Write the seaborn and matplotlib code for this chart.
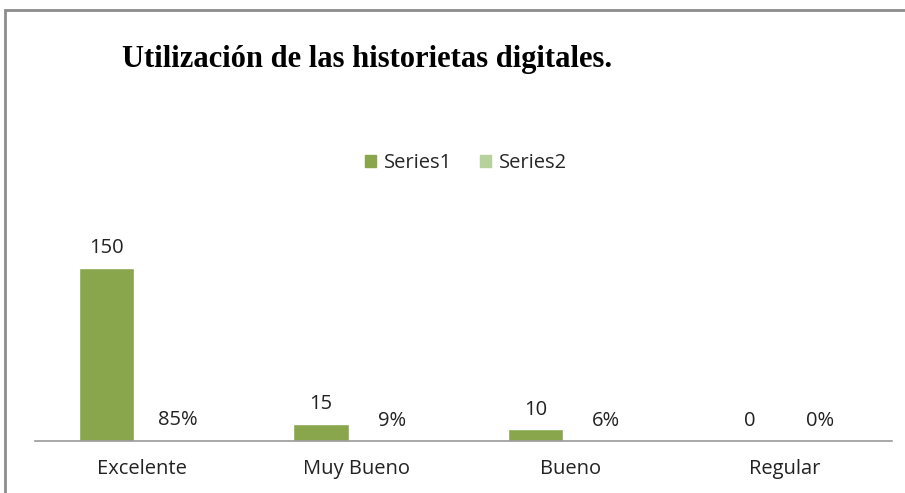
import pandas as pd
import matplotlib.pyplot as plt
import seaborn as sns
from matplotlib.patches import Rectangle

categories = ["Excelente", "Muy Bueno", "Bueno", "Regular"]
series1 = [150, 15, 10, 0]
series2 = [0.85, 0.09, 0.06, 0.0]
series2_labels = ["85%", "9%", "6%", "0%"]

df = pd.DataFrame({
    "categoria": categories * 2,
    "valor": series1 + series2,
    "serie": ["Series1"] * 4 + ["Series2"] * 4,
})

sns.set_theme(style="white")
plt.rcParams["font.family"] = ["Open Sans", "DejaVu Sans"]

fig = plt.figure(figsize=(9.05, 4.93), dpi=100)
ax = fig.add_axes([35 / 905, 52 / 493, 857 / 905, 231 / 493])

sns.barplot(data=df, x="categoria", y="valor", hue="serie",
            palette=["#8AA64C", "#B7D19A"], width=0.66, gap=0.22,
            saturation=1, ax=ax, legend=False)

ax.bar_label(ax.containers[0], labels=[str(v) for v in series1],
             padding=7, fontsize=14.5, color="#222222")
ax.bar_label(ax.containers[1], labels=series2_labels,
             padding=7, fontsize=14.5, color="#222222")

ax.set_ylim(0, 200)
ax.set_xlim(-0.5, 3.5)
ax.set_xlabel("")
ax.set_ylabel("")
ax.set_yticks([])
ax.tick_params(axis="x", length=0, labelsize=14.5, pad=13, colors="#222222")
sns.despine(ax=ax, left=True)
ax.spines["bottom"].set_color("#9a9a9a")
ax.spines["bottom"].set_linewidth(1.2)

# legend
handles = [Rectangle((0, 0), 1, 1, color="#8AA64C"),
           Rectangle((0, 0), 1, 1, color="#B7D19A")]
fig.legend(handles, ["Series1", "Series2"], loc="center",
           bbox_to_anchor=(466 / 905, 1 - 163 / 493), ncol=2, frameon=False,
           fontsize=14.5, handlelength=0.55, handleheight=0.55,
           handletextpad=0.4, columnspacing=1.4)

fig.text(122 / 905, 1 - 60 / 493, "Utilización de las historietas digitales.",
         family="Liberation Serif", fontweight="bold", fontsize=22,
         va="center", ha="left", color="black")

# chart border (only top and left visible)
fig.patches.append(Rectangle((5 / 905, -0.2), 1.2, 1.2 - 10 / 493,
                             transform=fig.transFigure, fill=False,
                             edgecolor="#8c8c8c", linewidth=2))

fig.savefig("out.png", dpi=100)
